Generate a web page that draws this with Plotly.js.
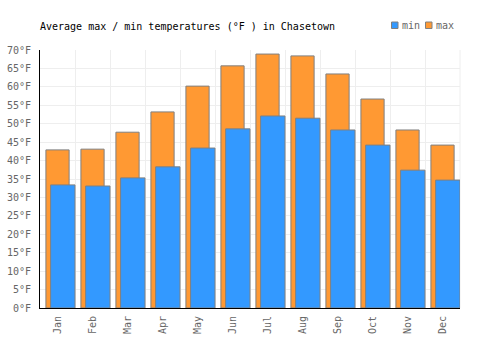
<!DOCTYPE html>
<html>
<head>
<meta charset="utf-8">
<script src="https://cdn.plot.ly/plotly-3.0.1.min.js"></script>
<style>html,body{margin:0;padding:0;background:#fff;}#chart{width:500px;height:350px;}</style>
</head>
<body>
<div id="chart"></div>
<script>
var months = ["Jan","Feb","Mar","Apr","May","Jun","Jul","Aug","Sep","Oct","Nov","Dec"];
var maxTemps = [42.9, 43.1, 47.7, 53.2, 60.2, 65.7, 68.9, 68.4, 63.5, 56.7, 48.3, 44.2];
var minTemps = [33.4, 33.1, 35.3, 38.3, 43.4, 48.6, 52.1, 51.5, 48.3, 44.2, 37.4, 34.7];
var yTicks = [0,5,10,15,20,25,30,35,40,45,50,55,60,65,70];
var yTickText = yTicks.map(function (v) { return v + "°F"; });

var font = "'DejaVu Sans Mono', monospace";
var maxColor = "#ff9933", minColor = "#3399ff", edge = "#808080";

var traces = [
  {
    type: "bar", name: "max", x: months, y: maxTemps,
    width: 0.663, offset: -0.331,
    marker: {color: maxColor, line: {color: edge, width: 1}},
    hoverinfo: "y"
  },
  {
    type: "bar", name: "min", x: months, y: minTemps,
    width: 0.697, offset: -0.197,
    marker: {color: minColor, line: {color: edge, width: 1}},
    hoverinfo: "y"
  }
];

// plot area: x 40..460 px, y 50..308 px
function px(x) { return (x - 40) / 420; }
function py(y) { return (308 - y) / 258; }

var legendItems = [
  {name: "min", color: minColor, x: 391.5},
  {name: "max", color: maxColor, x: 425.5}
];
var shapes = [
  {type: "line", xref: "paper", yref: "paper", x0: 1, x1: 1, y0: 0, y1: 1, line: {color: "#eeeeee", width: 1}, layer: "below"}
];
var annotations = [];
legendItems.forEach(function (it) {
  shapes.push({type: "rect", xref: "paper", yref: "paper", x0: px(it.x), x1: px(it.x + 6.5), y0: py(28.5), y1: py(22),
               fillcolor: it.color, line: {color: edge, width: 1}});
  annotations.push({xref: "paper", yref: "paper", x: px(it.x + 8), y: py(25.5), xanchor: "left", yanchor: "middle",
                    text: it.name, showarrow: false, font: {family: font, size: 10, color: "#666"}});
});

var layout = {
  width: 500, height: 350,
  margin: {l: 40, r: 40, t: 50, b: 42, pad: 0},
  paper_bgcolor: "#fff", plot_bgcolor: "#fff",
  barmode: "overlay",
  font: {family: font, size: 10, color: "#666"},
  title: {text: "Average max / min temperatures (°F ) in Chasetown", font: {family: font, size: 10, color: "#000"},
          x: 40/500, xanchor: "left", y: 1 - 26/350, yanchor: "middle"},
  showlegend: false,
  xaxis: {
    type: "category", tickson: "boundaries", showgrid: true, gridcolor: "#eeeeee", gridwidth: 1,
    showline: true, linecolor: "#000", linewidth: 1, ticks: "", tickangle: -90, ticklabelstandoff: 3,
    tickfont: {family: font, size: 10, color: "#666"}, range: [-0.5, 11.5], fixedrange: true
  },
  yaxis: {
    range: [0, 70], tickmode: "array", tickvals: yTicks, ticktext: yTickText, showgrid: true, gridcolor: "#eeeeee", gridwidth: 1,
    showline: true, linecolor: "#000", linewidth: 1, ticks: "", zeroline: false, ticklabelstandoff: 6,
    tickfont: {family: font, size: 10, color: "#666"}, fixedrange: true
  },
  shapes: shapes,
  annotations: annotations
};

Plotly.newPlot("chart", traces, layout, {displayModeBar: false, staticPlot: true});
</script>
</body>
</html>
